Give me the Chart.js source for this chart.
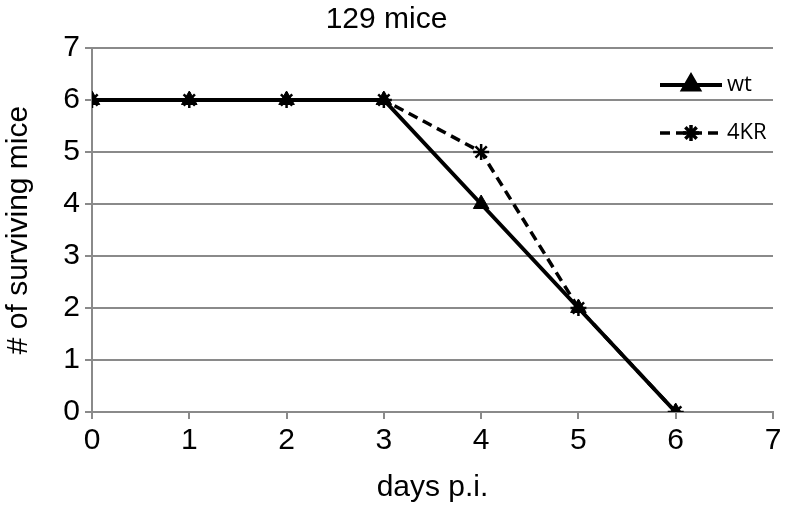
<!DOCTYPE html>
<html>
<head>
<meta charset="utf-8">
<script src="https://cdn.jsdelivr.net/npm/chart.js@4"></script>
<style>
  html, body { margin: 0; padding: 0; background: #fff; }
  #wrap { width: 786px; height: 517px; }
</style>
</head>
<body>
<div id="wrap"><canvas id="c" width="786" height="517"></canvas></div>
<script>
// --- Данные ---
const days = [0, 1, 2, 3, 4, 5, 6];
const wtValues = [6, 6, 6, 6, 4, 2, 0];
const kr4Values = [6, 6, 6, 6, 5, 2, 0];
const xTicks = [0, 1, 2, 3, 4, 5, 6, 7];
const yTicks = [0, 1, 2, 3, 4, 5, 6, 7];

const gridGray = '#8a8a8a';
const font = 'Arial, "Liberation Sans", sans-serif';

// Легенда внутри области графика (справа сверху)
const insideLegend = {
  id: 'insideLegend',
  afterDraw(chart) {
    const ctx = chart.ctx;
    const area = chart.chartArea;
    const rows = [
      { ds: chart.data.datasets[0], y: area.top + 37 },
      { ds: chart.data.datasets[1], y: area.top + 85 }
    ];
    const x0 = area.right - 113, x1 = area.right - 51;
    ctx.save();
    rows.forEach(r => {
      ctx.beginPath();
      ctx.strokeStyle = r.ds.borderColor;
      ctx.lineWidth = r.ds.borderWidth;
      ctx.setLineDash(r.ds.borderDash || []);
      ctx.moveTo(x0, r.y);
      ctx.lineTo(x1, r.y);
      ctx.stroke();
      ctx.setLineDash([]);
      ctx.fillStyle = '#000';
      ctx.strokeStyle = '#000';
      Chart.helpers.drawPoint(ctx, {
        pointStyle: r.ds.pointStyle,
        radius: r.ds.pointRadius,
        borderWidth: r.ds.pointBorderWidth || 1
      }, (x0 + x1) / 2, r.y);
      ctx.font = '22px "Open Sans", sans-serif';
      ctx.textBaseline = 'middle';
      ctx.fillText(r.ds.label, x1 + 5, r.y);
    });
    ctx.restore();
  }
};

new Chart(document.getElementById('c'), {
  type: 'line',
  data: {
    datasets: [
      {
        label: 'wt',
        data: days.map((d, i) => ({ x: d, y: wtValues[i] })),
        borderColor: '#000',
        backgroundColor: '#000',
        borderWidth: 4,
        pointStyle: 'triangle',
        pointRadius: 9,
        pointBorderWidth: 1,
        tension: 0
      },
      {
        label: '4KR',
        data: days.map((d, i) => ({ x: d, y: kr4Values[i] })),
        borderColor: '#000',
        backgroundColor: '#000',
        borderWidth: 3.5,
        borderDash: [10, 6],
        pointStyle: 'star',
        pointRadius: 8,
        pointBorderWidth: 2.5,
        tension: 0
      }
    ]
  },
  options: {
    responsive: false,
    animation: false,
    layout: { padding: { left: 0, right: 13, top: 0, bottom: 0 } },
    plugins: {
      legend: { display: false },
      tooltip: { enabled: false },
      title: {
        display: true,
        text: '129 mice',
        color: '#000',
        font: { family: font, size: 30, weight: 'normal' },
        padding: { top: 2, bottom: 10 }
      }
    },
    scales: {
      x: {
        type: 'linear',
        min: 0, max: 7,
        afterBuildTicks: (s) => { s.ticks = xTicks.map(v => ({ value: v })); },
        afterFit: (s) => { s.height = 105; },
        grid: { drawOnChartArea: false, color: gridGray, lineWidth: 2, tickLength: 7 },
        border: { color: gridGray, width: 2 },
        ticks: { color: '#000', font: { family: font, size: 30 }, padding: 4, maxRotation: 0 },
        title: {
          display: true, text: 'days p.i.', color: '#000',
          font: { family: font, size: 30 }, padding: { top: 0, bottom: 11 }
        }
      },
      y: {
        min: 0, max: 7,
        afterBuildTicks: (s) => { s.ticks = yTicks.map(v => ({ value: v })); },
        afterFit: (s) => { s.width = 92; },
        grid: { color: gridGray, lineWidth: 2, tickLength: 7 },
        border: { color: gridGray, width: 2 },
        ticks: { color: '#000', font: { family: font, size: 30 }, padding: 5 },
        title: {
          display: true, text: '# of surviving mice', color: '#000',
          font: { family: font, size: 30 }, padding: { top: 1, bottom: 0 }
        }
      }
    }
  },
  plugins: [insideLegend]
});
</script>
</body>
</html>
